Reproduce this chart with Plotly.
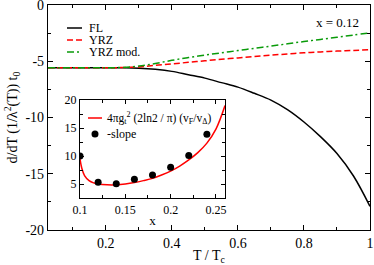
import plotly.graph_objects as go

# ---------------- data ----------------
T = [0.025, 0.05, 0.1, 0.15, 0.2, 0.25, 0.3, 0.35, 0.4, 0.45, 0.5, 0.55,
     0.6, 0.65, 0.7, 0.75, 0.8, 0.85, 0.9, 0.95, 1.0]
FL = [-5.57, -5.57, -5.57, -5.57, -5.57, -5.58, -5.62, -5.72, -5.9, -6.2, -6.5, -6.9,
      -7.3, -7.85, -8.45, -9.3, -10.4, -11.7, -13.2, -15.2, -17.9]
YRZ = [-5.57, -5.57, -5.57, -5.57, -5.57, -5.56, -5.5, -5.36, -5.23, -5.1, -4.96, -4.83,
       -4.7, -4.57, -4.46, -4.35, -4.25, -4.17, -4.1, -4.04, -3.98]
YRZ_mod = [-5.57, -5.57, -5.57, -5.57, -5.57, -5.55, -5.43, -5.2, -4.92, -4.67, -4.45, -4.25,
           -4.05, -3.85, -3.65, -3.45, -3.25, -3.06, -2.87, -2.67, -2.47]

x_dop = [0.10, 0.12, 0.14, 0.16, 0.18, 0.20, 0.22, 0.24]
neg_slope = [10.0, 5.3, 5.05, 5.85, 6.6, 8.0, 10.1, 13.9]

x_fit = [0.1, 0.102, 0.105, 0.11, 0.115, 0.12, 0.13, 0.14, 0.15, 0.16, 0.17,
         0.18, 0.19, 0.2, 0.21, 0.22, 0.23, 0.24, 0.25, 0.26]
fit = [9.5, 7.8, 6.5, 5.6, 5.2, 5.0, 4.85, 4.85, 5.0, 5.25, 5.6,
       6.0, 6.6, 7.3, 8.2, 9.3, 10.6, 12.3, 14.8, 19.0]

main_xticks = [0.2, 0.4, 0.6, 0.8, 1.0]
main_xtext = ["0.2", "0.4", "0.6", "0.8", "1"]
main_yticks = [0, -5, -10, -15, -20]
main_ytext = ["0", "-5", "-10", "-15", "-20"]
ins_xticks = [0.1, 0.15, 0.2, 0.25]
ins_xtext = ["0.1", "0.15", "0.2", "0.25"]
ins_yticks = [5, 10, 15, 20]
ins_ytext = ["5", "10", "15", "20"]

# ---------------- layout helpers ----------------
W, H = 374, 265
L, R, TOP, B = 48, 4, 5, 35
PW, PH = W - L - R, H - TOP - B


def px(x):
    return (x - L) / PW


def py(y):
    return (H - B - y) / PH


FONT = "Liberation Serif, Times New Roman, serif"
GREEN = "rgb(10,155,10)"
DASH_R = "6px,3px"
DASH_G = "7px,3px,2px,3px"

fig = go.Figure()
fig.add_trace(go.Scatter(x=T, y=FL, mode="lines", name="FL",
                         line=dict(color="black", width=1.5, shape="spline")))
fig.add_trace(go.Scatter(x=T, y=YRZ, mode="lines", name="YRZ",
                         line=dict(color="red", width=1.5, dash=DASH_R, shape="spline")))
fig.add_trace(go.Scatter(x=T, y=YRZ_mod, mode="lines", name="YRZ mod.",
                         line=dict(color=GREEN, width=1.5, dash=DASH_G, shape="spline")))
fig.add_trace(go.Scatter(x=x_fit, y=fit, mode="lines", xaxis="x2", yaxis="y2",
                         name="fit", line=dict(color="red", width=1.5, shape="spline")))
fig.add_trace(go.Scatter(x=x_dop, y=neg_slope, mode="markers", xaxis="x2", yaxis="y2",
                         name="-slope", marker=dict(color="black", size=7)))

axis_common = dict(showline=True, linecolor="black", linewidth=1.2, mirror="allticks",
                   ticks="inside", tickcolor="black", showgrid=False, zeroline=False,
                   ticklabeloverflow="allow")

fig.update_layout(
    width=W, height=H, showlegend=False,
    margin=dict(l=L, r=R, t=TOP, b=B, autoexpand=False),
    paper_bgcolor="white", plot_bgcolor="white",
    font=dict(family=FONT, color="black", size=14),
    xaxis=dict(range=[0.025, 1.0], tickvals=main_xticks, ticktext=main_xtext,
               ticklen=5, tickwidth=1, tickfont=dict(size=14),
               minor=dict(dtick=0.1, tick0=0, ticks="inside", ticklen=3, tickcolor="black"),
               title=dict(text="T / T<sub>c</sub>", font=dict(size=14), standoff=2),
               **axis_common),
    yaxis=dict(range=[-20, 0], tickvals=main_yticks, ticktext=main_ytext,
               ticklen=5, tickwidth=1, tickfont=dict(size=14),
               minor=dict(dtick=2.5, tick0=0, ticks="inside", ticklen=3, tickcolor="black"),
               title=dict(text="d/dT (1/λ<sup>2</sup>(T)) t<sub>0</sub>", font=dict(size=14), standoff=4),
               **axis_common),
    xaxis2=dict(domain=[px(80), px(225)], anchor="y2", range=[0.1, 0.26],
                tickvals=ins_xticks, ticktext=ins_xtext, ticklen=4, tickfont=dict(size=12),
                minor=dict(dtick=0.025, tick0=0.1, ticks="inside", ticklen=2.5, tickcolor="black"),
                title=dict(text="x", font=dict(size=13), standoff=0),
                **axis_common),
    yaxis2=dict(domain=[py(198), py(100)], anchor="x2", range=[2.5, 20],
                tickvals=ins_yticks, ticktext=ins_ytext, ticklen=4, tickfont=dict(size=12),
                minor=dict(dtick=2.5, tick0=0, ticks="inside", ticklen=2.5, tickcolor="black"),
                **axis_common),
)

# annotation "x = 0.12"
fig.add_annotation(x=px(337), y=py(23), xref="paper", yref="paper", text="x = 0.12",
                   showarrow=False, font=dict(size=13), xanchor="center", yanchor="middle")

# manual legend (main)
legend_items = [("FL", "black", "solid", 28), ("YRZ", "red", DASH_R, 40),
                ("YRZ mod.", GREEN, DASH_G, 52)]
for label, col, dash, yy in legend_items:
    fig.add_shape(type="line", xref="paper", yref="paper", x0=px(67), x1=px(82),
                  y0=py(yy), y1=py(yy), line=dict(color=col, width=1.5, dash=dash))
    fig.add_annotation(x=px(88), y=py(yy), xref="paper", yref="paper", text=label,
                       showarrow=False, xanchor="left", yanchor="middle", font=dict(size=12),
                       borderpad=0)

# manual legend (inset)
fig.add_shape(type="line", xref="paper", yref="paper", x0=px(88), x1=px(102),
              y0=py(118), y1=py(118), line=dict(color="red", width=1.5))
fig.add_annotation(x=px(106), y=py(118), xref="paper", yref="paper",
                   text="4πg<sub>t</sub><sup>2</sup> (2ln2 / π) (v<sub>F</sub>/v<sub>Δ</sub>)",
                   showarrow=False, xanchor="left", yanchor="middle", font=dict(size=11.5),
                   borderpad=0)
fig.add_shape(type="circle", xref="paper", yref="paper", x0=px(91.5), x1=px(98.5),
              y0=py(130.5), y1=py(137.5), fillcolor="black", line=dict(color="black", width=0))
fig.add_annotation(x=px(106), y=py(134), xref="paper", yref="paper", text="-slope",
                   showarrow=False, xanchor="left", yanchor="middle", font=dict(size=12),
                   borderpad=0)

fig.write_html("out.html", config={"displayModeBar": False},
               post_script="document.body.style.margin='0';document.body.style.padding='0';")
